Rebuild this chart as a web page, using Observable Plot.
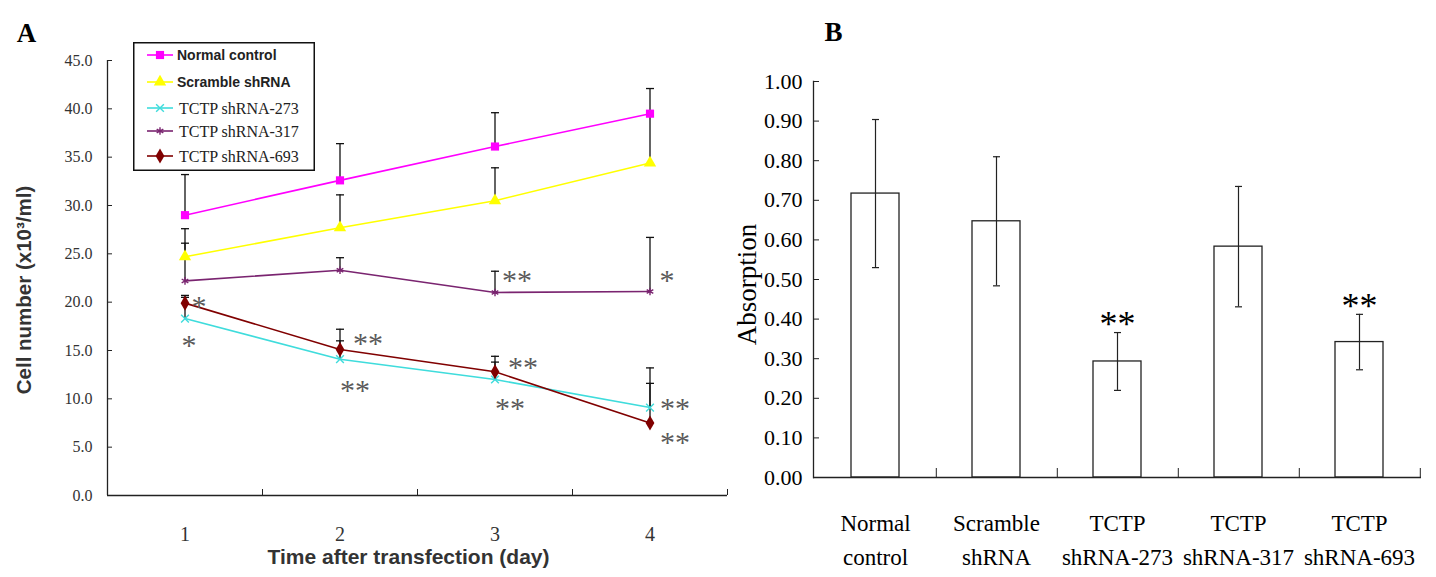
<!DOCTYPE html>
<html><head><meta charset="utf-8">
<script src="https://cdn.jsdelivr.net/npm/d3@7"></script>
<script src="https://cdn.jsdelivr.net/npm/@observablehq/plot@0.6"></script>
<style>
body{margin:0;background:#fff;}
#wrap{position:relative;width:1436px;height:577px;overflow:hidden;background:#fff;}
#wrap > div{position:absolute;top:0;}
</style></head><body>
<div id="wrap"><div id="a" style="left:0"></div><div id="b" style="left:720px"></div><div id="legend" style="left:133px;top:42px"></div></div>
<script>
// ---------- Panel A data ----------
const days = [1, 2, 3, 4];
const seriesNames = ["Normal control", "Scramble shRNA", "TCTP shRNA-273", "TCTP shRNA-317", "TCTP shRNA-693"];
const normalControl   = [29.0, 32.6, 36.1, 39.5];
const normalControlSD = [4.2, 3.8, 3.5, 2.6];
const scrambleShRNA   = [24.7, 27.7, 30.5, 34.4];
const scrambleShRNASD = [2.9, 3.4, 3.4, 5.0];
const shRNA273        = [18.3, 14.1, 12.0, 9.1];
const shRNA273SD      = [2.2, 1.9, 1.8, 2.5];
const shRNA317        = [22.2, 23.3, 21.0, 21.1];
const shRNA317SD      = [3.9, 1.3, 2.2, 5.6];
const shRNA693        = [19.9, 15.1, 12.8, 7.5];
const shRNA693SD      = [0.8, 2.1, 1.6, 5.7];
const yTicksA = [0, 5, 10, 15, 20, 25, 30, 35, 40, 45];
const yTitleA = "Cell number (x10³/ml)";
const xTitleA = "Time after transfection (day)";
// significance marks: series, day, label
const sigA = [
  {series: "TCTP shRNA-693", day: 1, label: "*"},
  {series: "TCTP shRNA-273", day: 1, label: "*"},
  {series: "TCTP shRNA-693", day: 2, label: "**"},
  {series: "TCTP shRNA-273", day: 2, label: "**"},
  {series: "TCTP shRNA-317", day: 3, label: "**"},
  {series: "TCTP shRNA-693", day: 3, label: "**"},
  {series: "TCTP shRNA-273", day: 3, label: "**"},
  {series: "TCTP shRNA-317", day: 4, label: "*"},
  {series: "TCTP shRNA-273", day: 4, label: "**"},
  {series: "TCTP shRNA-693", day: 4, label: "**"}
];

// ---------- Panel B data ----------
const catsB = ["Normal control", "Scramble shRNA", "TCTP shRNA-273", "TCTP shRNA-317", "TCTP shRNA-693"];
const tickLabelsB = ["Normal\ncontrol", "Scramble\nshRNA", "TCTP\nshRNA-273", "TCTP\nshRNA-317", "TCTP\nshRNA-693"];
const absorption   = [0.717, 0.647, 0.293, 0.583, 0.342];
const absorptionSD = [0.187, 0.163, 0.073, 0.152, 0.070];
const yTicksB = [0, 0.1, 0.2, 0.3, 0.4, 0.5, 0.6, 0.7, 0.8, 0.9, 1.0];
const sigB = [{cat: "TCTP shRNA-273", label: "**"}, {cat: "TCTP shRNA-693", label: "**"}];
const yTitleB = "Absorption";

// ---------- styles ----------
const seriesColors = ["#ff00ff", "#ffff00", "#3fdcdc", "#7a2470", "#800000"];
const seriesSymbols = ["square", "triangle", "times", "asterisk", "diamond"];
const seriesFilled = [true, true, false, false, true];
const sigOffsetsA = [[14, -2], [4, 22], [28, -11], [15, 26], [22, -17], [28, -9], [15, 24], [17, -16], [25, -4], [25, 14]];
const serif = "Liberation Serif, Times New Roman, serif";
const sans = "Liberation Sans, Arial, sans-serif";
const capSymbol = {draw(ctx, size) { const w = Math.sqrt(size / Math.PI); ctx.moveTo(-w, 0); ctx.lineTo(w, 0); }};

// ---------- build rows ----------
const valuesA = [normalControl, scrambleShRNA, shRNA273, shRNA317, shRNA693];
const sdA = [normalControlSD, scrambleShRNASD, shRNA273SD, shRNA317SD, shRNA693SD];
const rowsA = [];
seriesNames.forEach((s, i) => days.forEach((d, j) => rowsA.push({series: s, day: d, value: valuesA[i][j], sd: sdA[i][j]})));
const pointOf = (s, d) => rowsA.find(r => r.series === s && r.day === d);

const marksA = [
  Plot.ruleX([0.5], {stroke: "#222", strokeWidth: 1.3}),
  Plot.ruleY([0], {stroke: "#222", strokeWidth: 1.3}),
  Plot.axisY({ticks: yTicksA, tickSize: 0, tickPadding: 15, tickFormat: d => d.toFixed(1), fontSize: 16, fontFamily: serif, color: "#333", label: null}),
  Plot.axisY({ticks: yTicksA, tickSize: 5, dx: 5, tickFormat: () => "", color: "#222", label: null}),
  Plot.axisX({ticks: days, tickSize: 0, tickPadding: 31, tickFormat: d => String(d), fontSize: 20, fontFamily: serif, color: "#333", label: null}),
  Plot.axisX({ticks: days.map(d => d + 0.5), tickSize: 6, dy: -6, tickFormat: () => "", color: "#222", label: null})
];
seriesNames.forEach((s, i) => {
  marksA.push(Plot.line(rowsA.filter(r => r.series === s), {x: "day", y: "value", stroke: seriesColors[i], strokeWidth: 1.6}));
});
marksA.push(
  Plot.ruleX(rowsA, {x: "day", y1: "value", y2: d => d.value + d.sd, stroke: "#111", strokeWidth: 1.3}),
  Plot.dot(rowsA, {x: "day", y: d => d.value + d.sd, symbol: capSymbol, r: 4, fill: "none", stroke: "#111", strokeWidth: 1.3})
);
seriesNames.forEach((s, i) => {
  const opts = {x: "day", y: "value", symbol: seriesSymbols[i], r: seriesFilled[i] ? 4.6 : 3.6};
  if (seriesFilled[i]) { opts.fill = seriesColors[i]; opts.stroke = "none"; }
  else { opts.fill = "none"; opts.stroke = seriesColors[i]; opts.strokeWidth = 1.4; }
  marksA.push(Plot.dot(rowsA.filter(r => r.series === s), opts));
});
sigA.forEach((a, k) => {
  const p = pointOf(a.series, a.day);
  marksA.push(Plot.text([a], {x: () => p.day, y: () => p.value, text: "label", dx: sigOffsetsA[k][0], dy: sigOffsetsA[k][1] + 5, fontSize: 30, fontFamily: serif, fill: "#5a5a5a"}));
});
marksA.push(
  Plot.text([yTitleA], {text: d => d, frameAnchor: "left", textAnchor: "middle", dx: -83, dy: 12, rotate: -90, fontSize: 20.5, fontWeight: "bold", fontFamily: sans, fill: "#333"}),
  Plot.text([xTitleA], {text: d => d, frameAnchor: "bottom", textAnchor: "middle", dx: -9, dy: 68, fontSize: 21, fontWeight: "bold", fontFamily: sans, fill: "#333"}),
  Plot.text(["A"], {text: d => d, frameAnchor: "top-left", textAnchor: "middle", dx: -81, dy: -38, fontSize: 27, fontWeight: "bold", fontFamily: serif, fill: "#000"})
);

const plotA = Plot.plot({
  width: 740, height: 577, marginLeft: 107, marginRight: 13, marginTop: 60, marginBottom: 82,
  x: {domain: [0.5, 4.5]}, y: {domain: [0, 45]},
  style: {background: "transparent", overflow: "visible"},
  marks: marksA
});
document.getElementById("a").append(plotA);

// ---------- legend ----------
const lg = d3.select("#legend").append("svg").attr("width", 183).attr("height", 130).style("display", "block");
lg.append("rect").attr("x", 0.75).attr("y", 0.75).attr("width", 180.5).attr("height", 127.5).attr("fill", "#fff").attr("stroke", "#111").attr("stroke-width", 1.5);
const legendY = [13, 40, 66, 89, 114];
const d3Sym = {square: d3.symbolSquare, triangle: d3.symbolTriangle, times: d3.symbolTimes, asterisk: d3.symbolAsterisk, diamond: d3.symbolDiamond};
seriesNames.forEach((s, i) => {
  const g = lg.append("g").attr("transform", `translate(0,${legendY[i]})`);
  g.append("line").attr("x1", 14).attr("x2", 40).attr("stroke", seriesColors[i]).attr("stroke-width", 1.6);
  const r = seriesFilled[i] ? 4.6 : 3.6;
  g.append("path").attr("transform", "translate(27,0)").attr("d", d3.symbol(d3Sym[seriesSymbols[i]], r * r * Math.PI)())
    .attr("fill", seriesFilled[i] ? seriesColors[i] : "none").attr("stroke", seriesFilled[i] ? "none" : seriesColors[i]).attr("stroke-width", 1.4);
  const bold = i < 2;
  g.append("text").attr("x", bold ? 44 : 46).attr("dy", "0.35em").text(s)
    .attr("font-family", bold ? sans : serif).attr("font-weight", bold ? "bold" : "normal")
    .attr("font-size", bold ? 14 : 16).attr("fill", "#222");
});

// ---------- Panel B ----------
const rowsB = catsB.map((c, i) => ({cat: c, value: absorption[i], sd: absorptionSD[i]}));
const labelMap = new Map(catsB.map((c, i) => [c, tickLabelsB[i]]));
const stepB = (716 - 93 - 15) / catsB.length;
const plotB = Plot.plot({
  width: 716, height: 577, marginLeft: 93, marginRight: 15, marginTop: 81, marginBottom: 100,
  x: {domain: catsB, paddingInner: 0.6, paddingOuter: 0.3},
  y: {domain: [0, 1]},
  style: {background: "transparent", overflow: "visible"},
  marks: [
    Plot.barY(rowsB, {x: "cat", y: "value", fill: "white", stroke: "#222", strokeWidth: 1.3}),
    Plot.ruleX(rowsB, {x: "cat", y1: d => d.value - d.sd, y2: d => d.value + d.sd, stroke: "#222", strokeWidth: 1.2}),
    Plot.dot(rowsB, {x: "cat", y: d => d.value + d.sd, symbol: capSymbol, r: 3.5, fill: "none", stroke: "#222", strokeWidth: 1.2}),
    Plot.dot(rowsB, {x: "cat", y: d => d.value - d.sd, symbol: capSymbol, r: 3.5, fill: "none", stroke: "#222", strokeWidth: 1.2}),
    Plot.frame({anchor: "left", stroke: "#222", strokeWidth: 1.3}),
    Plot.ruleY([0], {stroke: "#222", strokeWidth: 1.3}),
    Plot.axisY({ticks: yTicksB, tickSize: 0, tickPadding: 11, tickFormat: d3.format(".2f"), fontSize: 22, fontFamily: serif, color: "#000", label: null}),
    Plot.axisY({ticks: yTicksB, tickSize: 6, dx: 6, tickFormat: () => "", color: "#222", label: null}),
    Plot.axisX({ticks: catsB, tickSize: 0, tickPadding: 29, tickFormat: d => labelMap.get(d), lineHeight: 1.5, fontSize: 23, fontFamily: serif, color: "#000", label: null, style: {letterSpacing: "-0.6px"}}),
    Plot.axisX({ticks: catsB, tickSize: 9, dy: -9, dx: stepB / 2, tickFormat: () => "", color: "#222", label: null}),
    Plot.text(sigB, {x: "cat", y: d => rowsB.find(r => r.cat === d.cat).value + rowsB.find(r => r.cat === d.cat).sd, text: "label", dy: -8, fontSize: 36, fontFamily: serif, fill: "#000"}),
    Plot.text([yTitleB], {text: d => d, frameAnchor: "left", textAnchor: "middle", dx: -66, dy: 5, rotate: -90, fontSize: 27, fontFamily: serif, fill: "#000"}),
    Plot.text(["B"], {text: d => d, frameAnchor: "top-left", textAnchor: "middle", dx: 20, dy: -60, fontSize: 27, fontWeight: "bold", fontFamily: serif, fill: "#000"})
  ]
});
document.getElementById("b").append(plotB);
</script>
</body></html>
